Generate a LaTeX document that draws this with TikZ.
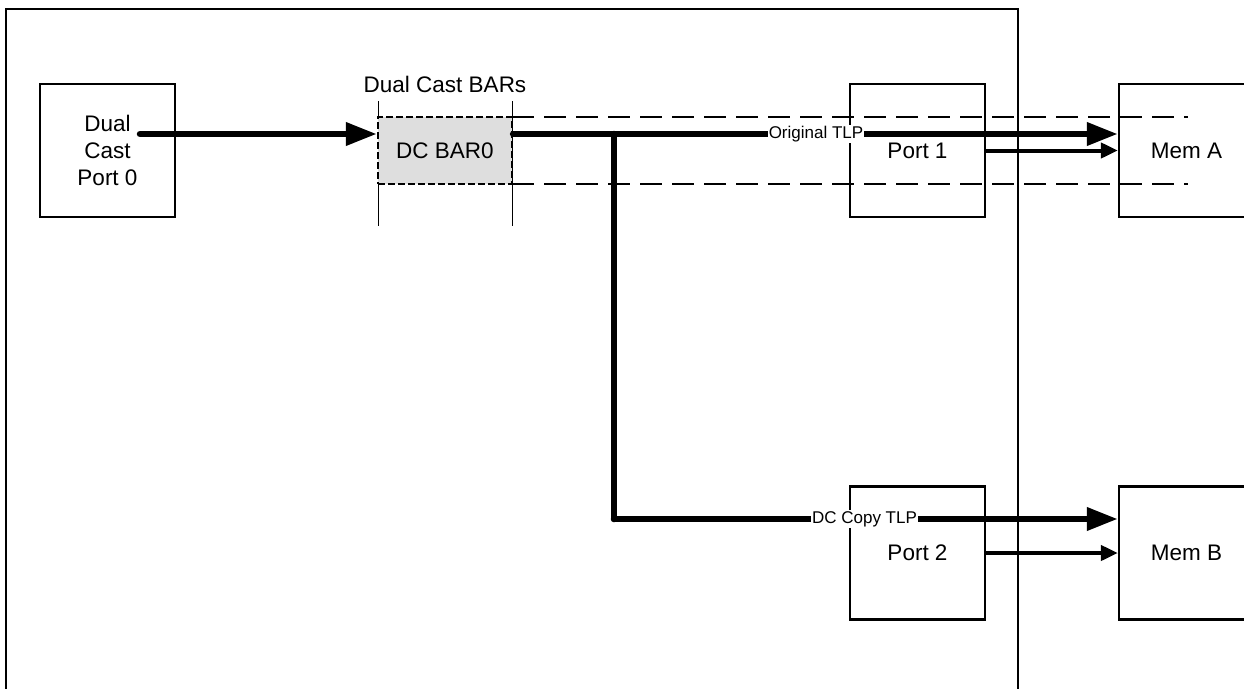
\documentclass[tikz,border=0pt]{standalone}
\usepackage{fontspec}
\setmainfont{Liberation Sans}
\usetikzlibrary{arrows.meta,calc}
\definecolor{bargray}{HTML}{DEDEDE}
\tikzset{
  box/.style={draw, line width=2.2pt, minimum width=135pt, minimum height=133pt, inner sep=0pt,
    font=\fontsize{22.5}{27}\selectfont, align=center},
  barbox/.style={draw, line width=2.2pt, dash pattern=on 7pt off 3pt, fill=bargray,
    minimum width=134pt, minimum height=67pt, inner sep=0pt, font=\fontsize{22.5}{27}\selectfont},
  frameline/.style={line width=2.2pt},
  guide/.style={line width=1pt},
  bandline/.style={line width=2.6pt, dash pattern=on 22pt off 10pt},
  bigarrow/.style={line width=6.5pt, line cap=round, -{Triangle[length=31pt,width=22pt]}},
  bigline/.style={line width=6.5pt, line cap=round},
  smallarrow/.style={line width=4pt, -{Triangle[length=17pt,width=15pt]}},
  lbl/.style={fill=white, inner sep=1pt, font=\fontsize{17}{19}\selectfont},
  captext/.style={font=\fontsize{22.5}{27}\selectfont, inner sep=0pt}
}
\begin{document}
\begin{tikzpicture}[x=1pt, y=-1pt]
\clip (0,0) rectangle (1244,688);
\fill[white] (0,0) rectangle (1244,688);
% outer frame
\draw[frameline] (6,9) rectangle (1018,700);
% dashed band
\coordinate (bandTL) at (512,117);
\coordinate (bandTR) at (1188,117);
\coordinate (bandBL) at (512,184);
\coordinate (bandBR) at (1188,184);
\draw[bandline] (bandTL) -- (bandTR);
\draw[bandline] (bandBL) -- (bandBR);
% guides of the BAR
\draw[guide] (378,101) -- (378,226);
\draw[guide] (512,101) -- (512,226);
% nodes
\node[box] (port0) at (107.5,150.5) {Dual\\Cast\\Port 0};
\node[barbox] (bar) at (445,150.5) {DC BAR0};
\node[captext] (bars) at (445,84) {Dual Cast BARs};
\node[box] (port1) at (917.5,150.5) {Port 1};
\node[box] (port2) at (917.5,553) {Port 2};
\node[box] (memA) at (1186.5,150.5) {Mem A};
\node[box] (memB) at (1186.5,553) {Mem B};
% connector coordinates
\coordinate (p0out) at (140,134);
\coordinate (barin) at (bar.west |- p0out);
\coordinate (barout) at (bar.east |- p0out);
\coordinate (split) at (614,134);
\coordinate (corner) at (614,519);
% connectors
\draw[bigarrow] (p0out) -- (barin);
\draw[bigarrow] (barout) -- (barout -| memA.west);
\draw[bigline] (split) -- (corner);
\draw[bigarrow] (corner) -- (corner -| memB.west);
\draw[smallarrow] (port1.east) -- (port1.east -| memA.west);
\draw[smallarrow] (port2.east) -- (port2.east -| memB.west);
% labels on the lines
\node[lbl] (lblA) at (816,134) {Original TLP};
\node[lbl] (lblB) at (864.5,519) {DC Copy TLP};
\end{tikzpicture}
\end{document}
